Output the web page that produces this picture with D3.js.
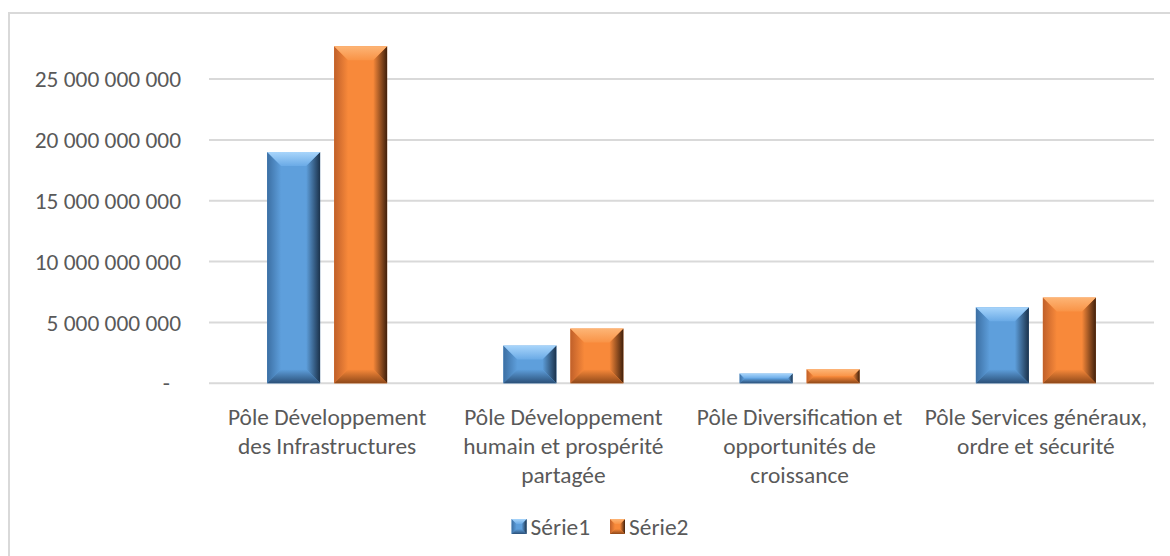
<!DOCTYPE html>
<html>
<head>
<meta charset="utf-8">
<script src="https://cdn.jsdelivr.net/npm/d3@7"></script>
<style>
  html, body { margin: 0; padding: 0; background: #fff; }
  svg { display: block; }
  text { font-family: Carlito, Calibri, Lato, "Open Sans", sans-serif; fill: #595959; }
</style>
</head>
<body>
<svg id="chart" width="1170" height="556"></svg>
<script>
const categories = [
  "Pôle Développement\ndes Infrastructures",
  "Pôle Développement\nhumain et prospérité\npartagée",
  "Pôle Diversification et\nopportunités de\ncroissance",
  "Pôle Services généraux,\nordre et sécurité"
];
const seriesNames = ["Série1", "Série2"];
const serie1 = [19000000000, 3100000000, 800000000, 6250000000];
const serie2 = [27700000000, 4500000000, 1150000000, 7050000000];
const tickValues = [0, 5000000000, 10000000000, 15000000000, 20000000000, 25000000000];
const tickLabels = ["-", "5 000 000 000", "10 000 000 000", "15 000 000 000", "20 000 000 000", "25 000 000 000"];

const svg = d3.select("#chart");
const W = 1170, H = 556;
const plot = { left: 209, right: 1154, top: 18.2, bottom: 383.3 };
const fontSize = 23.4;

const palettes = [
  { face: "#5e9fdc", left: ["#3c6fa3", "#5e9fdc"], right: ["#5e9fdc", "#1b324b"], top: ["#a8d5fb", "#6aaae6"], bottom: ["#5e9fdc", "#2b5078"] },
  { face: "#f8893a", left: ["#c0602a", "#f8893a"], right: ["#f8893a", "#40200c"], top: ["#fdb576", "#f99346"], bottom: ["#f8893a", "#8e4819"] }
];

// gradients
const defs = svg.append("defs");
palettes.forEach((p, i) => {
  const mk = (id, x1, y1, x2, y2, c) => {
    const g = defs.append("linearGradient").attr("id", id)
      .attr("x1", x1).attr("y1", y1).attr("x2", x2).attr("y2", y2);
    g.append("stop").attr("offset", "0%").attr("stop-color", c[0]);
    g.append("stop").attr("offset", "100%").attr("stop-color", c[1]);
  };
  mk(`gl${i}`, "0%", "0%", "100%", "0%", p.left);
  mk(`gr${i}`, "0%", "0%", "100%", "0%", p.right);
  mk(`gt${i}`, "0%", "0%", "0%", "100%", p.top);
  mk(`gb${i}`, "0%", "0%", "0%", "100%", p.bottom);
});

// chart border
svg.append("rect").attr("x", 9).attr("y", 13).attr("width", W + 20).attr("height", H + 20)
  .attr("fill", "none").attr("stroke", "#d9d9d9").attr("stroke-width", 2);

const y = d3.scaleLinear().domain([0, 30000000000]).range([plot.bottom, plot.top]);
const x0 = d3.scaleBand().domain(d3.range(categories.length)).range([plot.left, plot.right])
  .paddingInner(0.492).paddingOuter(0.246);
const x1 = d3.scaleBand().domain(d3.range(seriesNames.length)).range([0, x0.bandwidth()])
  .paddingInner(0.209).paddingOuter(0);

// gridlines
svg.append("g").selectAll("line").data(tickValues).join("line")
  .attr("x1", plot.left).attr("x2", plot.right)
  .attr("y1", d => y(d)).attr("y2", d => y(d))
  .attr("stroke", "#d9d9d9").attr("stroke-width", 2);

// y labels
svg.append("g").selectAll("text").data(tickValues).join("text")
  .attr("x", d => d === 0 ? 170 : 181)
  .attr("y", d => y(d)).attr("dy", "0.35em")
  .attr("text-anchor", "end").attr("font-size", fontSize)
  .text((d, i) => tickLabels[i]);

function bevelBar(g, x, yTop, w, h, si, maxB) {
  const b = Math.max(0, Math.min(maxB, h / 2, w / 2));
  const x2 = x + w, yb = yTop + h;
  g.append("rect").attr("x", x).attr("y", yTop).attr("width", w).attr("height", h).attr("fill", palettes[si].face);
  const poly = (pts, fill) => g.append("polygon").attr("points", pts.map(p => p.join(",")).join(" ")).attr("fill", fill);
  poly([[x, yTop], [x + b, yTop + b], [x + b, yb - b], [x, yb]], `url(#gl${si})`);
  poly([[x2, yTop], [x2 - b, yTop + b], [x2 - b, yb - b], [x2, yb]], `url(#gr${si})`);
  poly([[x, yTop], [x2, yTop], [x2 - b, yTop + b], [x + b, yTop + b]], `url(#gt${si})`);
  poly([[x, yb], [x2, yb], [x2 - b, yb - b], [x + b, yb - b]], `url(#gb${si})`);
}

// bars
const seriesData = [serie1, serie2];
const barsG = svg.append("g");
categories.forEach((c, ci) => {
  seriesData.forEach((vals, si) => {
    const bx = x0(ci) + x1(si);
    const yt = y(vals[ci]);
    bevelBar(barsG, bx, yt, x1.bandwidth(), plot.bottom - yt, si, 14);
  });
});

// category labels
const lineH = 28.8;
const catG = svg.append("g");
categories.forEach((c, ci) => {
  const cx = x0(ci) + x0.bandwidth() / 2;
  const t = catG.append("text").attr("text-anchor", "middle").attr("font-size", fontSize);
  c.split("\n").forEach((ln, li) => {
    t.append("tspan").attr("x", cx).attr("y", 425 + li * lineH).text(ln);
  });
});

// legend
const legG = svg.append("g");
const mSize = 15, gapMT = 4, gapItems = 20;
const items = seriesNames.map((n, i) => {
  const t = legG.append("text").attr("font-size", fontSize).attr("y", 535).text(n);
  return { t, w: t.node().getComputedTextLength(), i };
});
const total = items.reduce((s, it) => s + mSize + gapMT + it.w, 0) + gapItems * (items.length - 1);
let lx = 600 - total / 2;
items.forEach(it => {
  const mg = legG.append("g");
  bevelBar(mg, lx, 519, mSize, mSize, it.i, 5);
  it.t.attr("x", lx + mSize + gapMT);
  lx += mSize + gapMT + it.w + gapItems;
});
</script>
</body>
</html>
